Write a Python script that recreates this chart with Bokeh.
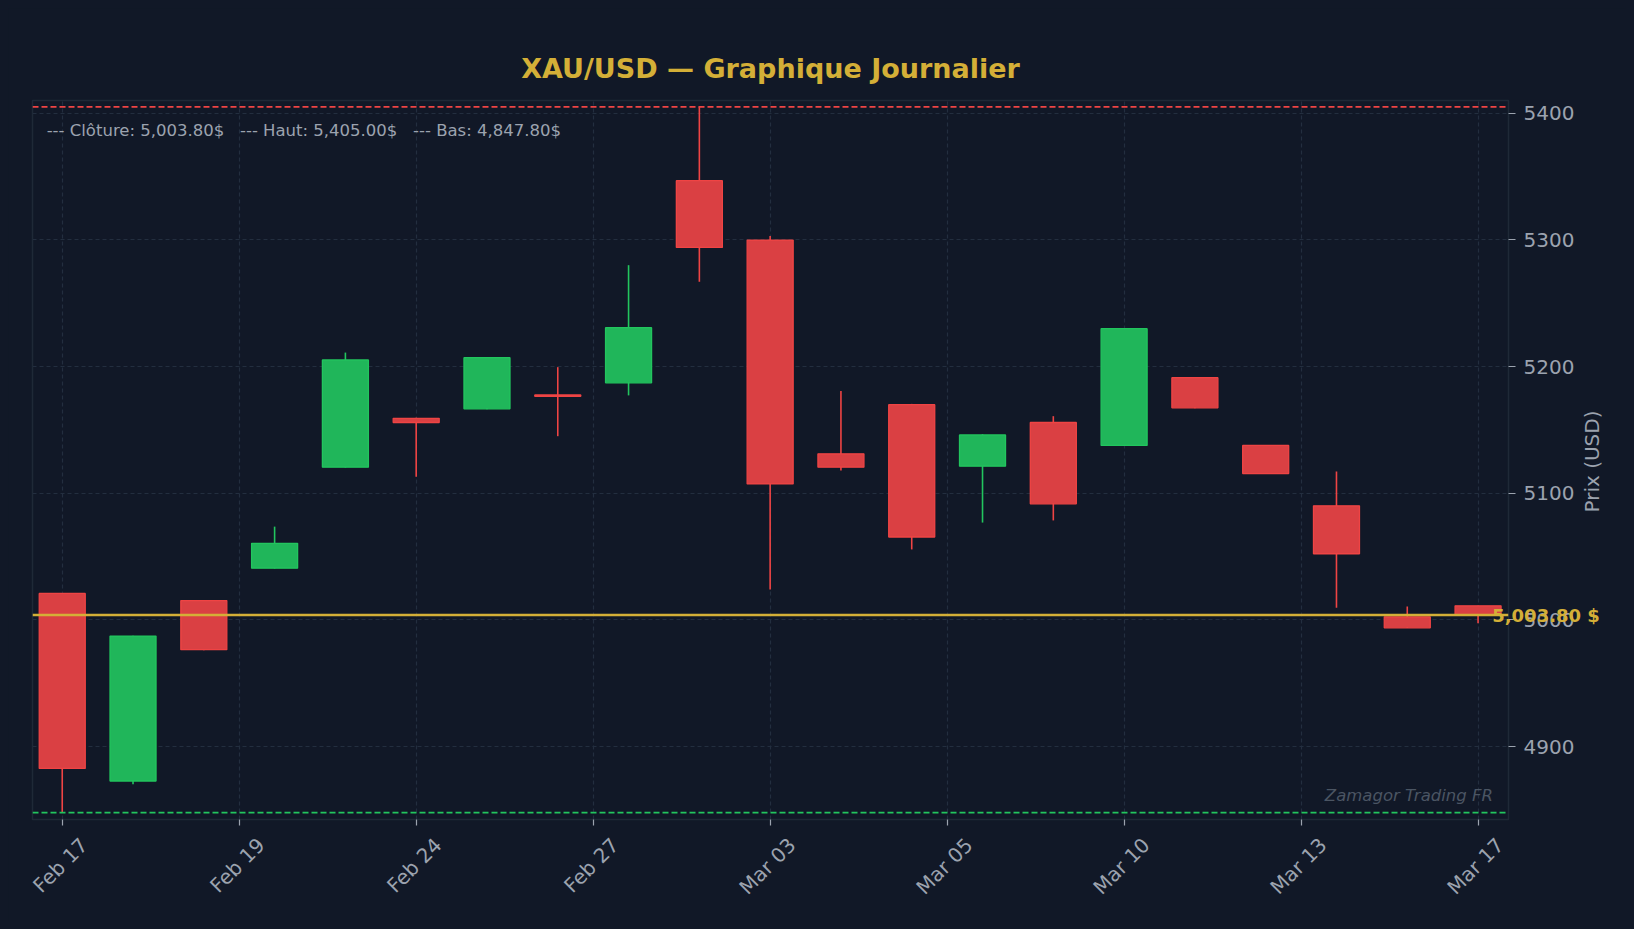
from bokeh.plotting import figure
from bokeh.models import ColumnDataSource, Span, Label, FixedTicker, Range1d
from bokeh.embed import file_html
from bokeh.resources import INLINE
import math

# ---- data ----
dates = ["Feb 17", "Feb 18", "Feb 19", "Feb 20", "Feb 23", "Feb 24", "Feb 25",
         "Feb 26", "Feb 27", "Mar 02", "Mar 03", "Mar 04", "Mar 05", "Mar 06",
         "Mar 09", "Mar 10", "Mar 11", "Mar 12", "Mar 13", "Mar 16", "Mar 17"]
opens = [5020.9, 4872.8, 5015.2, 5040.8, 5120.5, 5159.1, 5166.6,
         5177.5, 5187.1, 5346.7, 5299.8, 5131.1, 5169.9, 5121.3,
         5155.8, 5137.7, 5191.2, 5137.7, 5090.0, 5002.4, 5011.1]
highs = [5021.2, 4987.5, 5015.5, 5073.6, 5211.0, 5159.5, 5207.5,
         5199.5, 5280.0, 5405.0, 5303.0, 5180.6, 5170.5, 5146.5,
         5160.8, 5230.2, 5191.5, 5138.0, 5117.2, 5010.6, 5011.2]
lows = [4847.8, 4870.3, 4976.0, 5040.5, 5120.2, 5113.0, 5166.3,
        5145.0, 5177.2, 5266.9, 5024.0, 5118.0, 5055.6, 5076.8,
        5078.5, 5137.4, 5167.1, 5115.2, 5009.5, 4993.5, 4997.4]
closes = [4882.7, 4987.2, 4976.5, 5060.4, 5205.2, 5155.8, 5207.0,
          5176.5, 5230.7, 5294.0, 5107.3, 5120.5, 5065.4, 5146.0,
          5091.6, 5229.9, 5167.4, 5115.5, 5052.2, 4993.7, 5003.8]

tick_positions = [0, 2.5, 5, 7.5, 10, 12.5, 15, 17.5, 20]
tick_labels = ["Feb 17", "Feb 19", "Feb 24", "Feb 27", "Mar 03",
               "Mar 05", "Mar 10", "Mar 13", "Mar 17"]
y_ticks = [4900, 5000, 5100, 5200, 5300, 5400]

last_close = 5003.80
period_high = 5405.00
period_low = 4847.80

BG = "#111827"
GOLD = "#d4af37"
RED = "#ef4444"
GREEN = "#22c55e"
RED_FILL = "#da4043"
GREEN_FILL = "#20b65a"
GRAY = "#9ca3af"
FONT = "DejaVu Sans"

idx = list(range(len(dates)))
up = [c >= o for o, c in zip(opens, closes)]
src = ColumnDataSource(dict(
    x=idx,
    top=[max(o, c) for o, c in zip(opens, closes)],
    bottom=[min(o, c) for o, c in zip(opens, closes)],
    high=highs,
    low=lows,
    color=[GREEN if u else RED for u in up],
    fill=[GREEN_FILL if u else RED_FILL for u in up],
))

p = figure(width=1618, height=913, output_backend="svg", toolbar_location=None,
           x_range=Range1d(-0.42, 20.43), y_range=Range1d(4842.4, 5410.0),
           y_axis_location="right", min_border_left=24, min_border_right=118,
           min_border_top=92, min_border_bottom=102)

p.background_fill_color = BG
p.border_fill_color = BG
p.outline_line_color = "#1f2937"
p.outline_line_width = 1.5

p.title.text = "XAU/USD \u2014 Graphique Journalier"
p.title.align = "center"
p.title.text_font = FONT
p.title.text_font_size = "27px"
p.title.text_font_style = "bold"
p.title.text_color = GOLD
p.title.standoff = -8

# grid
for g in (p.xgrid, p.ygrid):
    g.grid_line_color = "#232e3f"
    g.grid_line_dash = "4 3"
    g.grid_line_width = 1.2
p.xgrid.ticker = FixedTicker(ticks=tick_positions)
p.ygrid.ticker = FixedTicker(ticks=y_ticks)

# x axis: labels centred under ticks (label ticks shifted, tick marks as minor ticks)
shift = 0.31
label_ticks = [t + shift for t in tick_positions]
xa = p.xaxis[0]
xa.ticker = FixedTicker(ticks=label_ticks, minor_ticks=tick_positions)
xa.major_label_overrides = {t: l for t, l in zip(label_ticks, tick_labels)}
xa.major_label_orientation = math.pi / 4
xa.major_tick_line_color = None
xa.major_tick_out = 7
xa.major_tick_in = 0
xa.minor_tick_line_color = GRAY
xa.minor_tick_line_width = 1.2
xa.minor_tick_out = 6
xa.minor_tick_in = 0
xa.major_label_standoff = 15

ya = p.yaxis[0]
ya.ticker = FixedTicker(ticks=y_ticks)
ya.major_tick_line_color = GRAY
ya.major_tick_line_width = 1.2
ya.major_tick_out = 7
ya.major_tick_in = 0
ya.minor_tick_line_color = None
ya.major_label_standoff = 8
for ax in (xa, ya):
    ax.axis_line_color = None
    ax.major_label_text_color = GRAY
    ax.major_label_text_font = FONT
    ax.major_label_text_font_size = "20px"

# candles
p.segment(x0="x", y0="low", x1="x", y1="high", source=src,
          line_color="color", line_width=1.6)
p.vbar(x="x", width=0.65, top="top", bottom="bottom", source=src,
       fill_color="fill", line_color="color", line_width=1.3)

# reference lines
p.add_layout(Span(location=period_high, dimension="width", line_color=RED,
                  line_dash="6 3", line_width=1.7))
p.add_layout(Span(location=period_low, dimension="width", line_color=GREEN,
                  line_dash="6 3", line_width=1.7))
p.add_layout(Span(location=last_close, dimension="width", line_color=GOLD,
                  line_width=2.5))

# price tag for the last close (placed in a side panel so it is not clipped)
p.add_layout(Label(x=20.2, y=last_close, text=f"{last_close:,.2f} $",
                   text_color=GOLD, text_font=FONT, text_font_size="18px",
                   text_font_style="bold", text_baseline="middle", text_align="left"),
             "above")

# y axis title, reading bottom-to-top, centred on the frame
p.add_layout(Label(x=21.61, y=5125.0, text="Prix (USD)", angle=math.pi / 2,
                   text_color=GRAY, text_font=FONT, text_font_size="20px",
                   text_baseline="middle", text_align="center"),
             "left")

sp = "\u00a0\u00a0\u00a0"
legend_txt = (f"--- Cl\u00f4ture: {last_close:,.2f}${sp}--- Haut: {period_high:,.2f}$"
              f"{sp}--- Bas: {period_low:,.2f}$")
p.add_layout(Label(x=-0.22, y=5386.3, text=legend_txt, text_color=GRAY,
                   text_font=FONT, text_font_size="16.5px",
                   text_baseline="middle", text_align="left"))

p.add_layout(Label(x=20.21, y=4861.5, text="Zamagor Trading FR", text_color="#4b5563",
                   text_font=FONT, text_font_size="16.5px", text_font_style="italic",
                   text_baseline="middle", text_align="right"))

html = file_html(p, INLINE)
html = html.replace("</head>",
                    "<style>html{background:#111827;}body{background:#111827;margin:8px;}</style></head>", 1)
open("out.html", "w").write(html)
